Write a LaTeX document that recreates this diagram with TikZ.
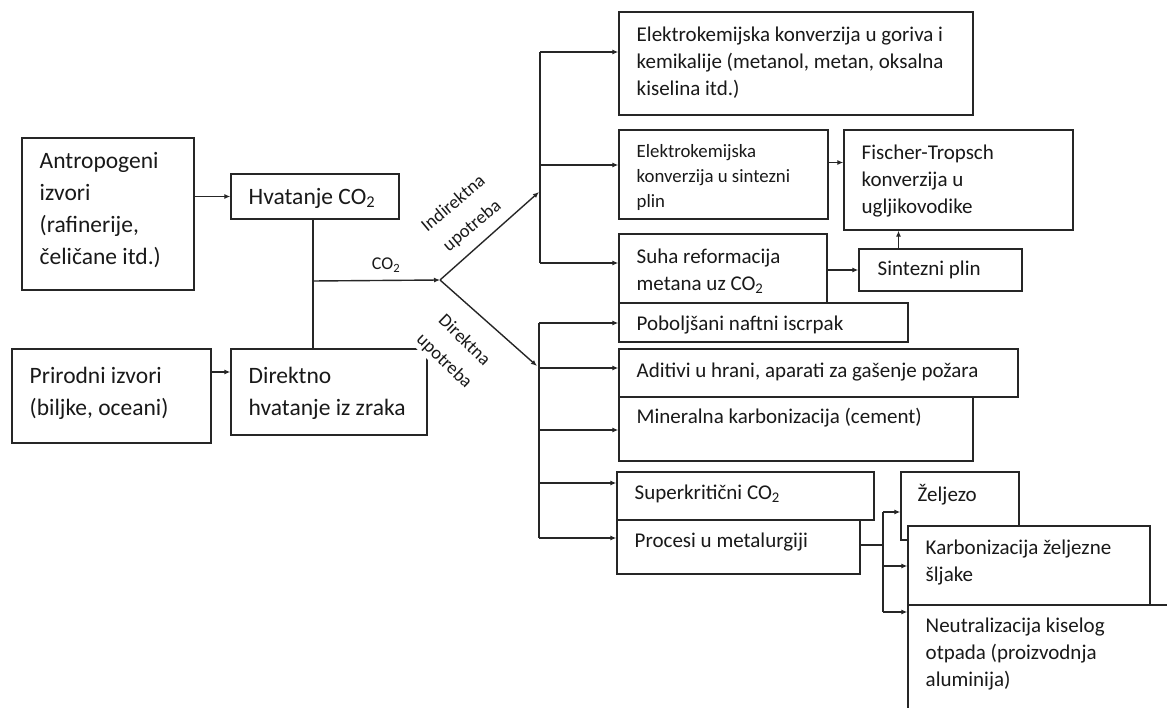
\documentclass[tikz,border=0pt]{standalone}
\usepackage{fontspec}
\setmainfont{Carlito}
\usetikzlibrary{arrows.meta}
\newcommand\szL{\fontsize{23.5}{32}\selectfont}
\newcommand\szM{\fontsize{21}{27}\selectfont}
\newcommand\szS{\fontsize{18.8}{25}\selectfont}
\newcommand\szR{\fontsize{18.5}{29}\selectfont}
\begin{document}
\begin{tikzpicture}[x=1pt,y=-1pt,
  line width=1.4pt, draw=black!85,
  box/.style={draw=black!85, fill=white, line width=1.4pt, inner sep=0pt},
  txt/.style={anchor=west, align=left, inner sep=0pt, text=black!90},
  arr/.style={draw=black!85, line width=1.4pt, -{Latex[length=6pt,width=5pt]}},
  ln/.style={draw=black!85, line width=1.4pt}]
\useasboundingbox (0,0) rectangle (1167,708);
\clip (0,0) rectangle (1167,708);

% ---- left side boxes
\node[box, minimum width=172pt, minimum height=152pt] (antro) at (108,214) {};
\node[box, minimum width=168pt, minimum height=45pt] (hvat) at (315,196.5) {};
\node[box, minimum width=199pt, minimum height=94pt] (prir) at (111.5,396) {};
\node[box, minimum width=196pt, minimum height=86pt] (direk) at (329,392) {};

\node[txt, font=\szL] (t-antro) at (39,210) {Antropogeni\\izvori\\(rafinerije,\\čeličane itd.)};
\node[txt, font=\szL] (t-hvat) at (248,198) {Hvatanje CO\textsubscript{2}};
\node[txt, font=\szL] (t-prir) at (29,393) {Prirodni izvori\\(biljke, oceani)};
\node[txt, font=\szL] (t-direk) at (248,393) {Direktno\\hvatanje iz zraka};

% ---- indirect use boxes
\node[box, minimum width=354pt, minimum height=103pt] (e1) at (796,63.5) {};
\node[box, minimum width=209pt, minimum height=89pt] (e2) at (723.5,174.5) {};
\node[box, minimum width=208pt, minimum height=69pt] (suha) at (723,268.5) {};
\node[box, minimum width=229pt, minimum height=100pt] (ft) at (958.5,180) {};
\node[box, minimum width=163pt, minimum height=42pt] (sint) at (940.5,270) {};

\node[txt, font=\szM] (t-e1) at (636,63) {Elektrokemijska konverzija u goriva i\\kemikalije (metanol, metan, oksalna\\kiselina itd.)};
\node[txt, font=\szS] (t-e2) at (636,177) {Elektrokemijska\\konverzija u sintezni\\plin};
\node[txt, font=\szM] (t-suha) at (636,271) {Suha reformacija\\metana uz CO\textsubscript{2}};
\node[txt, font=\szM] (t-ft) at (861,181) {Fischer-Tropsch\\konverzija u\\ugljikovodike};
\node[txt, font=\szM] (t-sint) at (877,270) {Sintezni plin};

% ---- direct use boxes
\node[box, minimum width=289pt, minimum height=39pt] (pob) at (763.5,322.5) {};
\node[box, minimum width=399pt, minimum height=48pt] (adi) at (818.5,373) {};
\node[box, minimum width=354pt, minimum height=64pt] (min) at (796,429) {};
\node[box, minimum width=257pt, minimum height=48pt] (sup) at (745.5,496) {};
\node[box, minimum width=243pt, minimum height=54pt] (proc) at (738.5,547) {};
\node[box, minimum width=118pt, minimum height=68pt] (zel) at (960,506) {};
\node[box, minimum width=242pt, minimum height=79pt] (kar) at (1029,565.5) {};
\node[box, minimum width=312pt, minimum height=125pt] (neu) at (1064,667.5) {};

\node[txt, font=\szM] (t-pob) at (636,325) {Poboljšani naftni iscrpak};
\node[txt, font=\szM] (t-adi) at (636,372) {Aditivi u hrani, aparati za gašenje požara};
\node[txt, font=\szM] (t-min) at (636,418) {Mineralna karbonizacija (cement)};
\node[txt, font=\szM] (t-sup) at (634,494) {Superkritični CO\textsubscript{2}};
\node[txt, font=\szM] (t-proc) at (634,542) {Procesi u metalurgiji};
\node[txt, font=\szM] (t-zel) at (917,495) {Željezo};
\node[txt, font=\szM] (t-kar) at (925,563) {Karbonizacija željezne\\šljake};
\node[txt, font=\szM] (t-neu) at (925,654) {Neutralizacija kiselog\\otpada (proizvodnja\\aluminija)};

% ---- coordinates
\coordinate (j) at (313,281);
\coordinate (br) at (440,280);
\coordinate (up) at (539,192);
\coordinate (dn) at (537,366);
\coordinate (u1) at (540,52);
\coordinate (u2) at (540,165);
\coordinate (u3) at (540,263);
\coordinate (d1) at (539,323);
\coordinate (d2) at (539,368);
\coordinate (d3) at (539,430);
\coordinate (d4) at (539,483);
\coordinate (d5) at (539,538);
\coordinate (m0) at (883,545);
\coordinate (m1) at (883,512);
\coordinate (m2) at (883,566);
\coordinate (m3) at (883,612);
\coordinate (a1) at ([yshift=12pt]e2.east);
\coordinate (s1) at ([xshift=-42pt]sint.north);
\coordinate (p1) at (211,372);

% ---- connectors, left part
\draw[arr] (antro.east |- hvat.west) -- (hvat.west);
\draw[arr] (p1) -- (p1 -| direk.west);
\draw[ln] (hvat.south -| j) -- (direk.north -| j);
\draw[arr] (j) -- (br) node[pos=0.575, yshift=15pt, font=\fontsize{18}{20}\selectfont, text=black!90] (co2) {CO\textsubscript{2}};
\draw[arr] (br) -- (up);
\draw[arr] (br) -- (dn);

% ---- rotated labels
\node[rotate=40, align=center, font=\szR, inner sep=1pt, text=black!90] (ind) at (463,215) {Indirektna\\upotreba};
\node[rotate=-44, align=center, font=\szR, inner sep=2pt, fill=white, text=black!90] (dir) at (454,351) {Direktna\\upotreba};

% ---- indirect bus
\draw[ln] (u1) -- (u3);
\draw[arr] (u1) -- (u1 -| e1.west);
\draw[arr] (u2) -- (u2 -| e2.west);
\draw[arr] (u3) -- (u3 -| suha.west);
\draw[arr] (a1) -- (a1 -| ft.west);
\draw[arr] (suha.east |- sint.west) -- (sint.west);
\draw[arr] (s1) -- (s1 |- ft.south);

% ---- direct bus
\draw[ln] (d1) -- (d5);
\draw[arr] (d1) -- (d1 -| pob.west);
\draw[arr] (d2) -- (d2 -| adi.west);
\draw[arr] (d3) -- (d3 -| min.west);
\draw[arr] (d4) -- (d4 -| sup.west);
\draw[arr] (d5) -- (d5 -| proc.west);

% ---- metallurgy bus
\draw[ln] (proc.east |- m0) -- (m0);
\draw[ln] (m1) -- (m3);
\draw[arr] (m1) -- (m1 -| zel.west);
\draw[arr] (m2) -- (m2 -| kar.west);
\draw[arr] (m3) -- (m3 -| neu.west);
\end{tikzpicture}
\end{document}
